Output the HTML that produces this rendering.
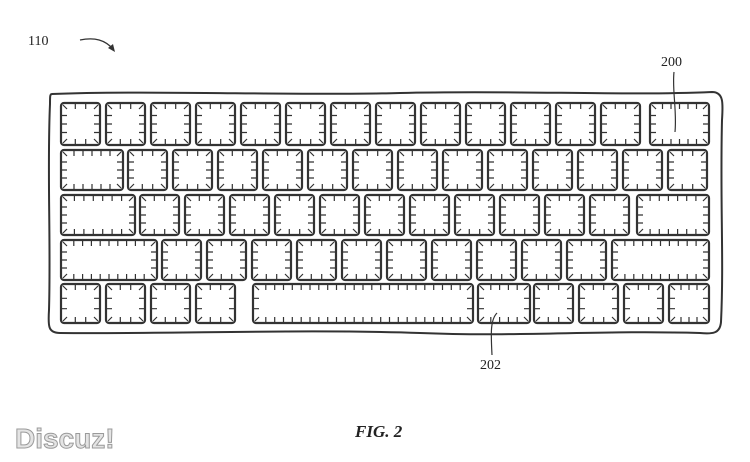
<!DOCTYPE html>
<html><head><meta charset="utf-8"><style>
html,body{margin:0;padding:0;background:#fff;width:750px;height:462px;overflow:hidden}
svg{display:block}
</style></head><body>
<svg id="s" width="750" height="462" viewBox="0 0 750 462" xmlns="http://www.w3.org/2000/svg">
<path d="M52,94 C150,90 300,96 400,93 C520,90 620,96 712,92 C724,92 723,104 722,120 C720,200 724,260 721,322 C720,334 712,334 700,333 C600,330 520,337 420,333 C300,329 180,334 60,333 C48,333 48,326 49,310 C51,240 47,170 50,104 C50,96 50,94 52,94 Z" fill="none" stroke="#333" stroke-width="2"/>
<g id="k" fill="none" stroke="#333"></g>
<text x="28" y="45" font-family="Liberation Serif,serif" font-size="14" fill="#222">110</text>
<path d="M80,40 C95,37 105,40 113,49" fill="none" stroke="#333" stroke-width="1.3"/>
<path d="M108,48 L115,52 L113,44 Z" fill="#333"/>
<text x="661" y="66" font-family="Liberation Serif,serif" font-size="14" fill="#222">200</text>
<path d="M674,72 C672,90 677,110 675,132" fill="none" stroke="#333" stroke-width="1.2"/>
<text x="480" y="369" font-family="Liberation Serif,serif" font-size="14" fill="#222">202</text>
<path d="M492,355 C491,335 490,320 497,313" fill="none" stroke="#333" stroke-width="1.2"/>
<text x="355" y="437" font-family="Liberation Serif,serif" font-size="17" font-weight="bold" font-style="italic" fill="#222">FIG. 2</text>
<text x="15" y="448" font-family="Liberation Sans,sans-serif" font-size="28" font-weight="bold" fill="#e4e4e4" stroke="#9a9a9a" stroke-width="1">Discuz!</text>
</svg>
<script>
var rows=[
 [103,145,(function(){var a=[];for(var i=0;i<13;i++)a.push([61+45*i,100+45*i]);a.push([650,709]);return a})()],
 [150,190,(function(){var a=[[61,123]];for(var i=0;i<13;i++)a.push([128+45*i,167+45*i]);return a})()],
 [195,235,(function(){var a=[[61,135]];for(var i=0;i<11;i++)a.push([140+45*i,179+45*i]);a.push([637,709]);return a})()],
 [240,280,(function(){var a=[[61,157]];for(var i=0;i<10;i++)a.push([162+45*i,201+45*i]);a.push([612,709]);return a})()],
 [284,323,[[61,100],[106,145],[151,190],[196,235],[253,473],[478,530],[534,573],[579,618],[624,663],[669,709]]]
];
var g=document.getElementById('k'),h='';
rows.forEach(function(r){var y1=r[0],y2=r[1];r[2].forEach(function(k){
 var x1=k[0],x2=k[1];
 h+='<rect x="'+x1+'" y="'+y1+'" width="'+(x2-x1)+'" height="'+(y2-y1)+'" rx="3" stroke-width="2.2"/>';
 var d='';
 var n=Math.max(2,Math.round((x2-x1-8)/9));
 for(var i=1;i<n;i++){var x=x1+4+(x2-x1-8)*i/n;d+='M'+x.toFixed(1)+','+(y1+1)+'v5M'+x.toFixed(1)+','+(y2-1)+'v-5';}
 var m=Math.max(2,Math.round((y2-y1-8)/9));
 for(var j=1;j<m;j++){var y=y1+4+(y2-y1-8)*j/m;d+='M'+(x1+1)+','+y.toFixed(1)+'h5M'+(x2-1)+','+y.toFixed(1)+'h-5';}
 d+='M'+(x1+2)+','+(y1+2)+'l4,4M'+(x2-2)+','+(y1+2)+'l-4,4M'+(x1+2)+','+(y2-2)+'l4,-4M'+(x2-2)+','+(y2-2)+'l-4,-4';
 h+='<path d="'+d+'" stroke-width="1.2"/>';
});});
g.innerHTML=h;
</script>
</body></html>
